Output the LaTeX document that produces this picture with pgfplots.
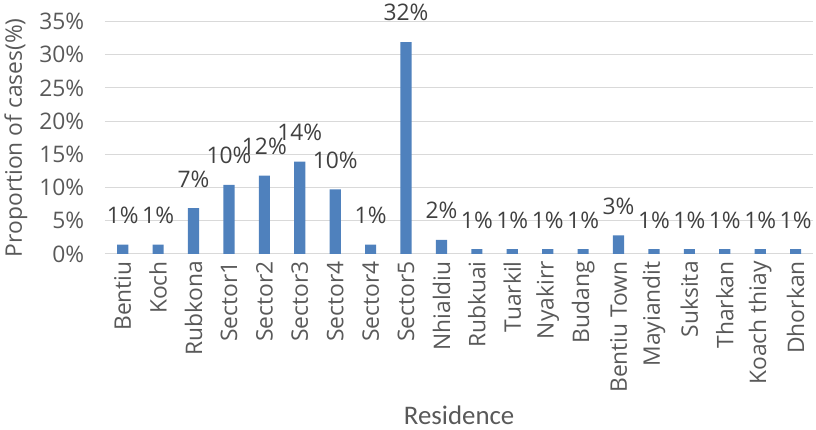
\documentclass[border=0pt]{standalone}
\usepackage{pgfplots}
\pgfplotsset{compat=1.18}
\usepackage{fontspec}
\setmainfont{Open Sans}
\newfontfamily\calibri{Carlito}
\definecolor{barblue}{HTML}{4F81BD}
\definecolor{gridgray}{HTML}{D9D9D9}
\definecolor{ticktext}{HTML}{595959}
\definecolor{labeltext}{HTML}{404040}

\begin{document}
\begin{tikzpicture}
\begin{axis}[
    scale only axis,
    width=528pt,
    height=173.25pt,
    ybar,
    bar width=8.3pt,
    xmin=-0.5, xmax=19.5,
    ymin=0, ymax=35,
    ytick={0,5,...,35},
    xtick=data,
    xticklabels={Bentiu,Koch,Rubkona,Sector1,Sector2,Sector3,Sector4,Sector4,Sector5,Nhialdiu,Rubkuai,Tuarkil,Nyakirr,Budang,Bentiu Town,Mayiandit,Suksita,Tharkan,Koach thiay,Dhorkan},
    yticklabel={\pgfmathprintnumber{\tick}\%},
    /pgf/number format/assume math mode=true,
    axis x line*=bottom,
    axis y line*=left,
    y axis line style={draw=none},
    x axis line style={draw=gridgray,line width=0.75pt,-},
    major tick length=0pt,
    ymajorgrids,
    grid style={gridgray,line width=0.75pt},
    tick label style={font=\fontsize{17}{20}\selectfont, text=ticktext},
    yticklabel style={xshift=-12pt},
    xticklabel style={rotate=90, anchor=east, xshift=-2pt},
    ylabel={Proportion of cases(\%)},
    ylabel style={font=\fontsize{17}{20}\selectfont, text=ticktext, yshift=2pt},
    xlabel={Residence},
    xlabel style={font=\calibri\fontsize{20}{24}\selectfont, text=ticktext, yshift=-3pt},
    nodes near coords={\pgfmathprintnumber[fixed,precision=0]{\pgfplotspointmeta}\%},
    every node near coord/.append style={font=\fontsize{17}{20}\selectfont, text=labeltext, yshift=12pt},
    clip=false,
]
\addplot[fill=barblue, draw=none] coordinates {
    (0,1.4) (1,1.4) (2,6.9) (3,10.4) (4,11.8) (5,13.9) (6,9.7) (7,1.4) (8,31.9) (9,2.1)
    (10,0.7) (11,0.7) (12,0.7) (13,0.7) (14,2.8) (15,0.7) (16,0.7) (17,0.7) (18,0.7) (19,0.7)
};
\end{axis}
\end{tikzpicture}
\end{document}
